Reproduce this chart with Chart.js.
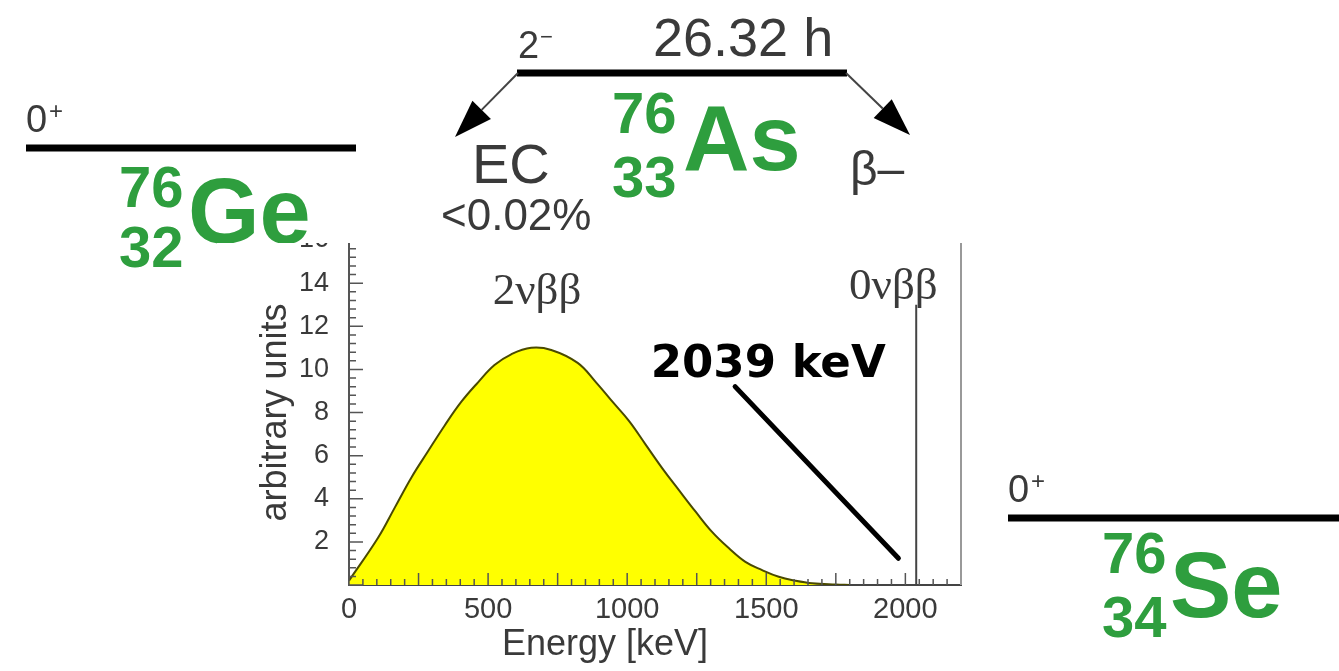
<!DOCTYPE html>
<html>
<head>
<meta charset="utf-8">
<title>76Ge double beta decay</title>
<script src="https://cdn.jsdelivr.net/npm/chart.js@4.4.1/dist/chart.umd.min.js"></script>
<style>
  html, body { margin: 0; padding: 0; background: #fff; }
  canvas { display: block; }
</style>
</head>
<body>
<canvas id="spectrumChart" width="1339" height="671"></canvas>
<script>
// --- Datos del espectro 2vbb ---
const energyKeV = [0, 105, 165, 225, 284, 344, 404, 464, 523, 583, 655, 727, 822, 888, 947,
    1007, 1067, 1127, 1186, 1246, 1306, 1366, 1425, 1485, 1545, 1605, 1665, 1750, 1800];
const spectrum = [0.2, 2.2, 3.6, 5.0, 6.2, 7.4, 8.5, 9.4, 10.2, 10.7, 11.0, 10.9, 10.3, 9.4, 8.5,
    7.6, 6.5, 5.4, 4.4, 3.4, 2.45, 1.7, 1.07, 0.69, 0.38, 0.2, 0.08, 0.02, 0];

// linea del pico 0vbb en Q = 2039 keV
const peakEnergy = [2039, 2039];
const peakLevel = [0, 13];

// flecha de la etiqueta "2039 keV"
const pointerEnergy = [1388, 1975];
const pointerLevel = [9.2, 1.24];

const xTickValues = [0, 500, 1000, 1500, 2000];
const yTickValues = [2, 4, 6, 8, 10, 12, 14, 16];

const SANS = '"Liberation Sans", Arial, sans-serif';
const SERIF = '"Liberation Serif", "Times New Roman", serif';
const GREEN = '#2e9e3e';
const GRAY = '#3a3a3a';

const toPoints = (xs, ys) => xs.map((x, i) => ({ x: x, y: ys[i] }));

// textos dentro del grafico, anclados en coordenadas de datos
const notes = [
    { text: '2\u03bd\u03b2\u03b2', x: 676, y: 13.6, font: '45px ' + SERIF, color: GRAY },
    { text: '0\u03bd\u03b2\u03b2', x: 1957, y: 13.8, font: '45px ' + SERIF, color: GRAY },
    { text: '2039 keV', x: 1507, y: 10.2, font: 'bold 45px "DejaVu Sans", sans-serif', color: '#000' }
];
// titulo del eje x: en la figura original esta desplazado a la izquierda
const xTitle = { text: 'Energy [keV]', at: 920, font: '36px ' + SANS };

// --- Esquema de desintegracion (parte superior / derecha) ---
const schemeTexts = [
    { t: '0', x: 26, y: 132, f: '38px ' + SANS, c: GRAY },
    { t: '+', x: 49, y: 119, f: '24px ' + SANS, c: GRAY },
    { t: '76', x: 119, y: 207, f: 'bold 58px ' + SANS, c: GREEN },
    { t: '32', x: 119, y: 267, f: 'bold 58px ' + SANS, c: GREEN },
    { t: 'Ge', x: 188, y: 243, f: 'bold 92px ' + SANS, c: GREEN },
    { t: '2', x: 518, y: 58, f: '38px ' + SANS, c: GRAY },
    { t: '\u2212', x: 540, y: 44, f: '22px ' + SANS, c: GRAY },
    { t: '26.32 h', x: 653, y: 56, f: '54px ' + SANS, c: GRAY },
    { t: 'EC', x: 472, y: 183, f: '56px ' + SANS, c: GRAY },
    { t: '<0.02%', x: 441, y: 230, f: '44px ' + SANS, c: GRAY },
    { t: '76', x: 612, y: 133, f: 'bold 58px ' + SANS, c: GREEN },
    { t: '33', x: 612, y: 197, f: 'bold 58px ' + SANS, c: GREEN },
    { t: 'As', x: 683, y: 170, f: 'bold 92px ' + SANS, c: GREEN },
    { t: '\u03b2\u2013', x: 850, y: 185, f: '48px ' + SANS, c: GRAY },
    { t: '0', x: 1008, y: 502, f: '38px ' + SANS, c: GRAY },
    { t: '+', x: 1031, y: 489, f: '24px ' + SANS, c: GRAY },
    { t: '76', x: 1102, y: 573, f: 'bold 58px ' + SANS, c: GREEN },
    { t: '34', x: 1102, y: 637, f: 'bold 58px ' + SANS, c: GREEN },
    { t: 'Se', x: 1170, y: 617, f: 'bold 92px ' + SANS, c: GREEN }
];
const levelLines = [[26, 356, 148], [517, 847, 73], [1008, 1339, 518]];
const panel = { x: 217, y: 243, w: 758, h: 428 };

function drawArrow(ctx, x0, y0, x1, y1) {
    const ang = Math.atan2(y1 - y0, x1 - x0);
    const len = 38, half = 13;
    const bx = x1 - len * Math.cos(ang), by = y1 - len * Math.sin(ang);
    ctx.strokeStyle = '#444';
    ctx.lineWidth = 2;
    ctx.beginPath(); ctx.moveTo(x0, y0); ctx.lineTo(bx, by); ctx.stroke();
    ctx.fillStyle = '#000';
    ctx.beginPath();
    ctx.moveTo(x1, y1);
    ctx.lineTo(bx + half * Math.sin(ang), by - half * Math.cos(ang));
    ctx.lineTo(bx - half * Math.sin(ang), by + half * Math.cos(ang));
    ctx.closePath(); ctx.fill();
}

function drawScheme(ctx) {
    ctx.strokeStyle = '#000';
    ctx.lineWidth = 7;
    levelLines.forEach(([a, b, y]) => {
        ctx.beginPath(); ctx.moveTo(a, y); ctx.lineTo(b, y); ctx.stroke();
    });
    drawArrow(ctx, 518, 73, 455, 137);
    drawArrow(ctx, 846, 73, 910, 135);
    ctx.textAlign = 'left';
    ctx.textBaseline = 'alphabetic';
    schemeTexts.forEach(s => {
        ctx.font = s.f;
        ctx.fillStyle = s.c;
        ctx.fillText(s.t, s.x, s.y);
    });
}

const schemePlugin = {
    id: 'decayScheme',
    beforeDraw(chart) {
        const ctx = chart.ctx;
        ctx.save();
        ctx.fillStyle = '#fff';
        ctx.fillRect(0, 0, chart.width, chart.height);
        drawScheme(ctx);
        // el panel del espectro va pegado encima del esquema
        ctx.fillStyle = '#fff';
        ctx.fillRect(panel.x, panel.y, panel.w, panel.h);
        ctx.restore();
        ctx.save();
        ctx.beginPath();
        ctx.rect(panel.x, panel.y, panel.w, panel.h);
        ctx.clip();
    },
    afterDatasetsDraw(chart) {
        const ctx = chart.ctx;
        const { left, right, top, bottom } = chart.chartArea;
        const xs = chart.scales.x, ys = chart.scales.y;
        ctx.save();
        // ticks hacia dentro, estilo ROOT
        ctx.strokeStyle = '#555';
        ctx.lineWidth = 1.5;
        ctx.beginPath();
        for (let e = 0; e <= xs.max; e += 50) {
            const px = xs.getPixelForValue(e);
            const len = e % 250 === 0 ? 12 : 6;
            ctx.moveTo(px, bottom); ctx.lineTo(px, bottom - len);
        }
        for (let k = 0; k <= 40; k++) {
            const py = ys.getPixelForValue(k * 0.4);
            const len = k % 5 === 0 ? 14 : 7;
            ctx.moveTo(left, py); ctx.lineTo(left + len, py);
        }
        ctx.stroke();
        // marco derecho
        ctx.strokeStyle = '#999';
        ctx.lineWidth = 2;
        ctx.beginPath();
        ctx.moveTo(right, top); ctx.lineTo(right, bottom);
        ctx.stroke();
        // etiquetas
        ctx.textAlign = 'center';
        ctx.textBaseline = 'middle';
        notes.forEach(n => {
            ctx.font = n.font;
            ctx.fillStyle = n.color;
            ctx.fillText(n.text, xs.getPixelForValue(n.x), ys.getPixelForValue(n.y));
        });
        ctx.font = xTitle.font;
        ctx.fillStyle = GRAY;
        ctx.fillText(xTitle.text, xs.getPixelForValue(xTitle.at), xs.bottom - 26);
        ctx.restore();
    },
    afterDraw(chart) {
        chart.ctx.restore();
    }
};

document.addEventListener('DOMContentLoaded', () => {
    const el = document.getElementById('spectrumChart');
    new Chart(el, {
        type: 'line',
        data: {
            datasets: [
                {
                    label: '2vbb',
                    data: toPoints(energyKeV, spectrum),
                    borderColor: '#4a4a00',
                    borderWidth: 2,
                    backgroundColor: '#ffff00',
                    fill: 'origin',
                    tension: 0.4,
                    pointRadius: 0
                },
                {
                    label: '0vbb',
                    data: toPoints(peakEnergy, peakLevel),
                    borderColor: '#444',
                    borderWidth: 2,
                    fill: false,
                    pointRadius: 0
                },
                {
                    label: 'pointer',
                    data: toPoints(pointerEnergy, pointerLevel),
                    borderColor: '#000',
                    borderWidth: 5,
                    borderCapStyle: 'round',
                    fill: false,
                    pointRadius: 0
                }
            ]
        },
        options: {
            responsive: false,
            animation: false,
            events: [],
            layout: { padding: { left: 252, top: 240, right: 378, bottom: 0 } },
            scales: {
                x: {
                    type: 'linear',
                    min: 0,
                    max: 2200,
                    afterFit: s => { s.height = 86; },
                    afterBuildTicks: s => { s.ticks = xTickValues.map(v => ({ value: v })); },
                    grid: { display: false },
                    border: { display: true, color: '#444', width: 2 },
                    ticks: {
                        color: GRAY,
                        padding: 0,
                        maxRotation: 0,
                        font: { family: SANS, size: 29 },
                        callback: v => String(v)
                    },
                    title: { display: false }
                },
                y: {
                    min: 0,
                    max: 16,
                    afterFit: s => { s.width = 97; },
                    afterBuildTicks: s => { s.ticks = yTickValues.map(v => ({ value: v })); },
                    grid: { display: false },
                    border: { display: true, color: '#555', width: 2 },
                    ticks: { color: GRAY, padding: 12, font: { family: SANS, size: 27 } },
                    title: {
                        display: true,
                        text: 'arbitrary units',
                        color: GRAY,
                        font: { family: SANS, size: 36 },
                        padding: { top: 2, bottom: 0 }
                    }
                }
            },
            plugins: {
                legend: { display: false },
                title: { display: false },
                tooltip: { enabled: false }
            }
        },
        plugins: [schemePlugin]
    });
});
</script>
</body>
</html>
